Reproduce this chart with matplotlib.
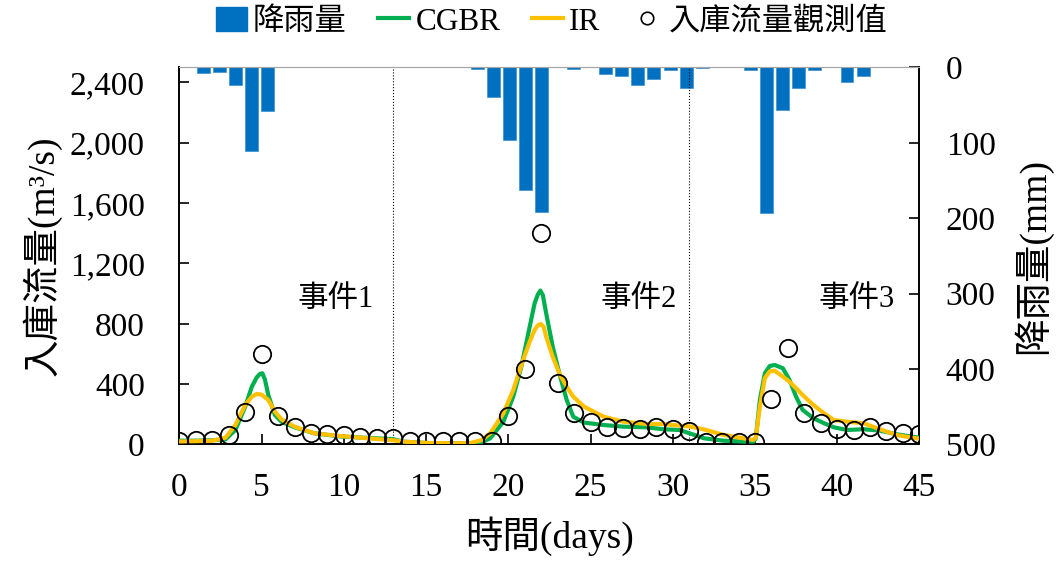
import numpy as np
import matplotlib
matplotlib.use("Agg")
import matplotlib.pyplot as plt
from matplotlib.lines import Line2D
from matplotlib.patches import Patch

plt.rcParams['font.family'] = ['Liberation Serif', 'Noto Sans CJK TC', 'DejaVu Sans']

# daily rainfall (mm), days 0..45
rain = [0, 7, 6, 24, 111, 58, 0, 0, 0, 0,
        0, 0, 0, 0, 0, 0, 0, 0, 2, 40,
        96, 162, 192, 0, 2, 0, 9, 11, 24, 16,
        4, 28, 1, 0, 0, 4, 193, 57, 28, 4,
        0, 20, 11, 0, 0, 0]

# observed inflow (m3/s), days 0..45
obs_day = list(range(46))
obs_q = [25, 30, 30, 61, 218, 600, 189, 114, 78, 67,
         61, 52, 45, 41, 23, 23, 23, 23, 23, 23,
         189, 500, 1402, 410, 211, 151, 114, 112, 103, 118,
         101, 92, 19, 19, 19, 19, 300, 642, 211, 145,
         103, 96, 118, 90, 74, 68]

# CGBR simulated inflow
cgbr_day = [0, 1, 2, 2.8, 3.4, 4.0, 4.4, 4.7, 4.9, 5.04, 5.2, 5.4, 5.8, 6.2, 7.0, 8.2, 9.9,
            11.9, 13, 13.6, 15, 17, 17.7, 18.4, 18.9, 19.7, 20.3, 20.8, 21.3, 21.6, 21.8, 21.95,
            22.1, 22.3, 22.7, 23.1, 23.55, 23.95, 24.6, 25.8, 27, 28.4, 29.4, 30.4, 31,
            31.9, 33.1, 34.3, 34.9, 35.05, 35.3, 35.6, 35.9, 36.2, 36.7, 37.1, 37.5, 37.9,
            38.55, 39.2, 39.8, 40.6, 41.6, 42.6, 43.6, 44.8, 45]
cgbr_q = [25, 25, 28, 34, 96, 251, 383, 445, 468, 472, 430, 328, 196, 151, 114, 74, 52,
          41, 35, 19, 10, 8, 8, 15, 41, 151, 317, 520, 781, 936, 995, 1020,
          990, 870, 649, 472, 295, 184, 145, 129, 118, 114, 101, 96, 75,
          41, 25, 19, 19, 40, 295, 472, 520, 527, 505, 428, 317, 229,
          174, 141, 114, 96, 101, 92, 68, 48, 45]

# IR simulated inflow
ir_day = [0, 1, 2, 2.8, 3.4, 4.0, 4.4, 4.7, 5.0, 5.4, 5.8, 6.2, 7.0, 8.2, 9.9,
          11.9, 13, 13.6, 15, 17, 17.7, 18.4, 18.9, 19.7, 20.3, 20.9, 21.3, 21.6, 21.8, 21.97,
          22.15, 22.3, 22.7, 23.1, 23.55, 23.95, 24.6, 25.8, 27, 28.4, 29.4, 30.4, 31,
          31.9, 33.1, 34.3, 34.9, 35.05, 35.3, 35.6, 35.9, 36.2, 36.7, 37.1, 37.5, 37.9,
          38.55, 39.2, 39.8, 40.6, 41.6, 42.6, 43.6, 44.8, 45]
ir_q = [20, 22, 25, 45, 129, 262, 317, 335, 330, 295, 218, 167, 118, 74, 55,
        37, 28, 19, 10, 8, 10, 30, 74, 207, 361, 560, 682, 759, 790, 799,
        780, 715, 582, 472, 383, 317, 251, 184, 151, 136, 136, 125, 120,
        100, 63, 41, 30, 45, 251, 439, 485, 489, 450, 416, 373, 328,
        262, 207, 162, 151, 141, 101, 63, 41, 38]

events = ['事件1', '事件2', '事件3']
event_x = [9.5, 27.9, 41.2]
event_split = [13, 31]

fig = plt.figure(figsize=(10.57, 5.61), dpi=100)
ax = fig.add_axes([0.1698, 0.2077, 0.7, 0.6723])
ax2 = ax.twinx()

# rain bars: 46 categories across the x range
n = len(rain)
bar_x = (np.arange(n) + 0.5) * 45 / n
ax2.bar(bar_x, rain, width=0.79, color='#0070C0', edgecolor='#3d8fd0', linewidth=0.5)
ax2.set_ylim(500, 0)
ax2.set_yticks([0, 100, 200, 300, 400, 500])

ax.set_zorder(ax2.get_zorder() + 1)
ax.patch.set_visible(False)

ax.plot(cgbr_day, cgbr_q, color='#00B050', lw=3, zorder=3, solid_joinstyle='round')
ax.plot(ir_day, ir_q, color='#FFC000', lw=3, zorder=4, solid_joinstyle='round')
ax.plot(obs_day, obs_q, 'o', mfc='none', mec='black', ms=12.5, mew=1.3, zorder=5)

for s in event_split:
    ax.axvline(s, color='black', ls=':', lw=0.8, zorder=2)
for t, x in zip(events, event_x):
    ax.text(x, 958, t, ha='center', va='center', fontsize=22)

ax.set_xlim(0, 45)
ax.set_ylim(0, 2500)
ax.set_xticks(range(0, 46, 5))
ax.set_yticks(range(0, 2401, 400))
ax.set_yticklabels([f'{v:,}' for v in range(0, 2401, 400)])

ax.tick_params(axis='x', direction='in', length=7, width=1.2, labelsize=24, pad=20)
ax.tick_params(axis='y', direction='in', length=7, width=1.2, labelsize=24, pad=25)
ax2.tick_params(axis='y', direction='in', length=7, width=1.2, labelsize=24, pad=19)

for a in (ax, ax2):
    a.spines['top'].set_color('#a6a6a6')
    a.spines['left'].set_linewidth(1.2)
    a.spines['bottom'].set_linewidth(1.2)
    a.spines['right'].set_linewidth(1.2)

ax.set_xlabel('時間(days)', fontsize=27, labelpad=10)
ax.set_ylabel('入庫流量(m³/s)', fontsize=27, labelpad=6)
ax2.set_ylabel('降雨量(mm)', fontsize=27, rotation=90, labelpad=12)

handles = [Patch(color='#0070C0'),
           Line2D([], [], color='#00B050', lw=3),
           Line2D([], [], color='#FFC000', lw=3),
           Line2D([], [], ls='none', marker='o', mfc='none', mec='black', ms=9, mew=1.2)]
labels = ['降雨量', 'CGBR', 'IR', '入庫流量觀測值']
fig.legend(handles, labels, loc='center', bbox_to_anchor=(0.522, 0.961), ncol=4,
           frameon=False, fontsize=22.5, handlelength=1.0, handleheight=0.8,
           handletextpad=0.2, columnspacing=1.0)

fig.savefig('out.png', dpi=100)
